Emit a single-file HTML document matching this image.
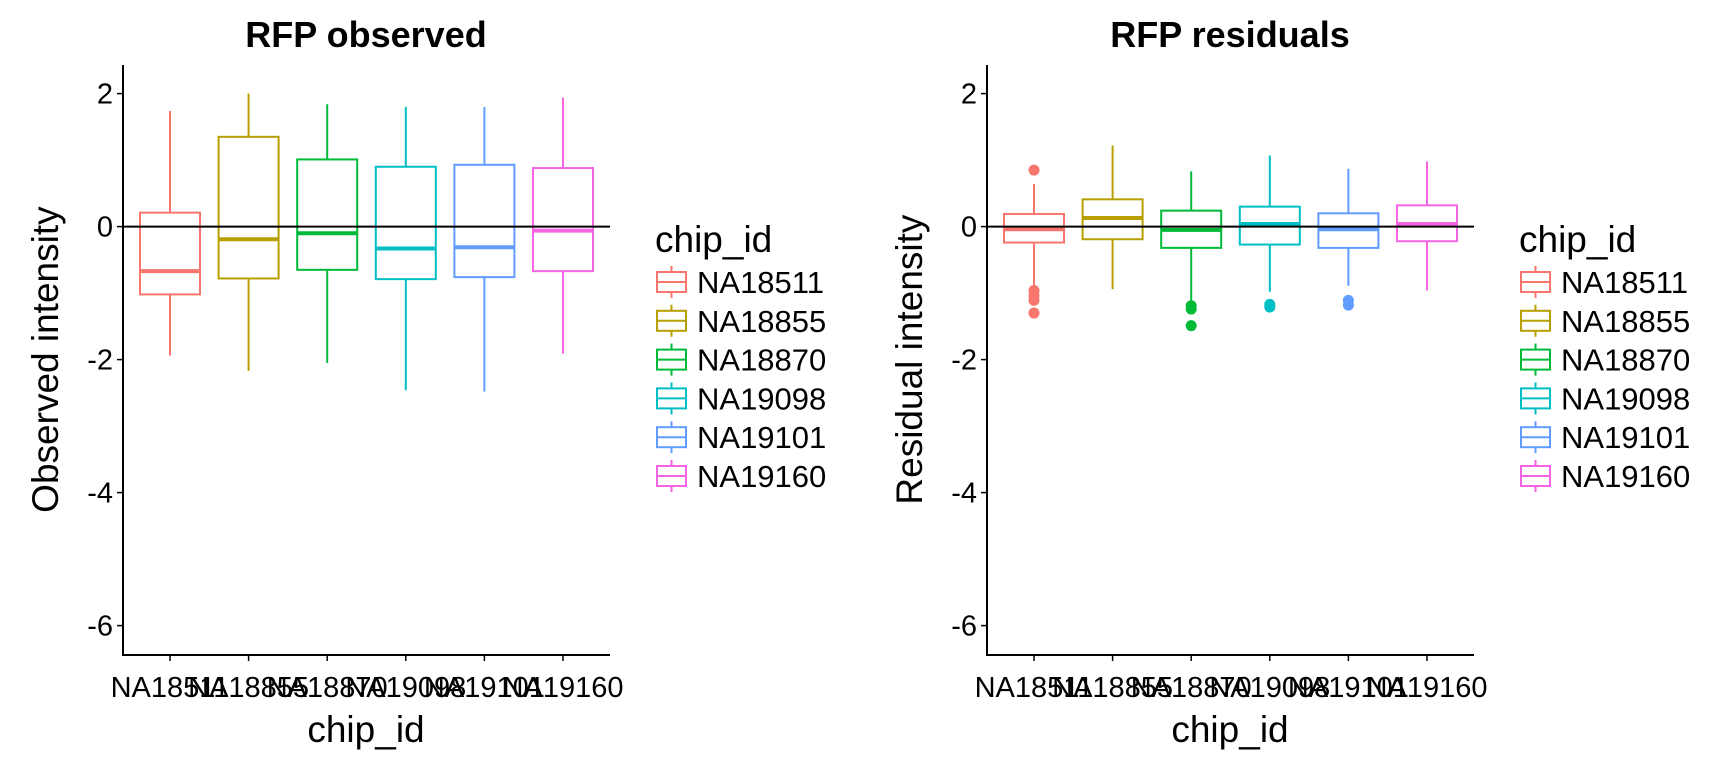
<!DOCTYPE html>
<html><head><meta charset="utf-8"><style>
html,body{margin:0;padding:0;background:#fff;}
svg{display:block;font-family:"Liberation Sans",Arial,sans-serif;}
</style></head><body>
<svg id="chart" width="1728" height="768" viewBox="0 0 1728 768" xmlns="http://www.w3.org/2000/svg"></svg>
<script>
const categories = ["NA18511","NA18855","NA18870","NA19098","NA19101","NA19160"];
const colors = ["#F8766D","#B79F00","#00BA38","#00BFC4","#619CFF","#F564E3"];
const yTicks = [2,0,-2,-4,-6];
// observed: [lowerWhisker, Q1, median, Q3, upperWhisker]
const obsLow = [-1.94,-2.17,-2.05,-2.46,-2.48,-1.91];
const obsQ1 = [-1.02,-0.78,-0.65,-0.79,-0.76,-0.67];
const obsMed = [-0.67,-0.19,-0.10,-0.33,-0.31,-0.06];
const obsQ3 = [0.21,1.35,1.01,0.90,0.93,0.88];
const obsHigh = [1.74,2.00,1.84,1.80,1.80,1.94];
const obsOut = [[],[],[],[],[],[]];
const resLow = [-0.89,-0.94,-1.11,-0.98,-0.89,-0.96];
const resQ1 = [-0.24,-0.19,-0.32,-0.27,-0.32,-0.22];
const resMed = [-0.04,0.13,-0.05,0.04,-0.04,0.04];
const resQ3 = [0.19,0.41,0.24,0.30,0.20,0.32];
const resHigh = [0.64,1.22,0.83,1.07,0.87,0.98];
const resOut = [[0.85,-0.96,-1.04,-1.11,-1.30],[],[-1.19,-1.24,-1.49],[-1.17,-1.21],[-1.11,-1.18],[]];

const NS="http://www.w3.org/2000/svg";
const svg=document.getElementById('chart');
function mk(tag,attrs,parent){const e=document.createElementNS(NS,tag);for(const k in attrs)e.setAttribute(k,attrs[k]);(parent||svg).appendChild(e);return e;}

function panel(ox,title,ytitle,low,q1,med,q3,high,outs,pname){
  const g=mk('g',{});
  
  
  const axL=ox+123, axR=ox+610, axT=65, axB=655;
  const y=v=>226.6-v*66.5;
  const x=i=>ox+170+i*78.6;
  const bw=60;
  const t=mk('text',{x:ox+366,y:47,'text-anchor':'middle','font-size':36,'font-weight':'bold'},g);t.textContent=title;
  
  
  const yt=mk('text',{x:0,y:0,'text-anchor':'middle','font-size':37,transform:`translate(${ox+58},${y(-2)}) rotate(-90)`},g);yt.textContent=ytitle;
  
  
  const xt=mk('text',{x:ox+366,y:742,'text-anchor':'middle','font-size':37},g);xt.textContent='chip_id';
  
  
  yTicks.forEach(v=>{
    mk('line',{x1:axL-6,x2:axL,y1:y(v),y2:y(v),stroke:'#000','stroke-width':1.5},g);
    const l=mk('text',{x:axL-10,y:y(v)+10,'text-anchor':'end','font-size':29},g);l.textContent=v;
    
    
  });
  categories.forEach((c,i)=>{
    mk('line',{x1:x(i),x2:x(i),y1:axB,y2:axB+6,stroke:'#000','stroke-width':1.5},g);
    const l=mk('text',{x:x(i),y:697,'text-anchor':'middle','font-size':29},g);l.textContent=c;
    
    
    const bg=mk('g',{stroke:colors[i],fill:'none','stroke-width':2},g);
    
    
    mk('line',{x1:x(i),x2:x(i),y1:y(high[i]),y2:y(q3[i])},bg);
    mk('line',{x1:x(i),x2:x(i),y1:y(q1[i]),y2:y(low[i])},bg);
    mk('rect',{x:x(i)-bw/2,y:y(q3[i]),width:bw,height:y(q1[i])-y(q3[i]),fill:'#fff'},bg);
    mk('line',{x1:x(i)-bw/2,x2:x(i)+bw/2,y1:y(med[i]),y2:y(med[i]),'stroke-width':4},bg);
    outs[i].forEach(v=>{const p=mk('circle',{cx:x(i),cy:y(v),r:5.5,fill:colors[i],stroke:'none'},bg);
      
      });
  });
  mk('line',{x1:axL,x2:axR,y1:y(0),y2:y(0),stroke:'#000','stroke-width':2},g);
  mk('line',{x1:axL,x2:axL,y1:axT,y2:axB+1,stroke:'#000','stroke-width':2},g);
  mk('line',{x1:axL-1,x2:axR,y1:axB,y2:axB,stroke:'#000','stroke-width':2},g);
  // legend
  const lg=mk('g',{},g);
  
  
  const lt=mk('text',{x:ox+655,y:252,'font-size':37},lg);lt.textContent='chip_id';
  categories.forEach((c,i)=>{
    const cy=282+i*38.8;
    const e=mk('g',{},lg);
    
    
    mk('line',{x1:ox+671.5,x2:ox+671.5,y1:cy-16,y2:cy+16,stroke:colors[i],'stroke-width':2},e);
    mk('rect',{x:ox+657,y:cy-10,width:29,height:20,fill:'#fff',stroke:colors[i],'stroke-width':2},e);
    mk('line',{x1:ox+657,x2:ox+686,y1:cy,y2:cy,stroke:colors[i],'stroke-width':2},e);
    const tx=mk('text',{x:ox+697,y:cy+11,'font-size':31},e);tx.textContent=c;
  });
}
panel(0,'RFP observed','Observed intensity',obsLow,obsQ1,obsMed,obsQ3,obsHigh,obsOut,'panel-observed');
panel(864,'RFP residuals','Residual intensity',resLow,resQ1,resMed,resQ3,resHigh,resOut,'panel-residuals');
</script>
</body></html>
